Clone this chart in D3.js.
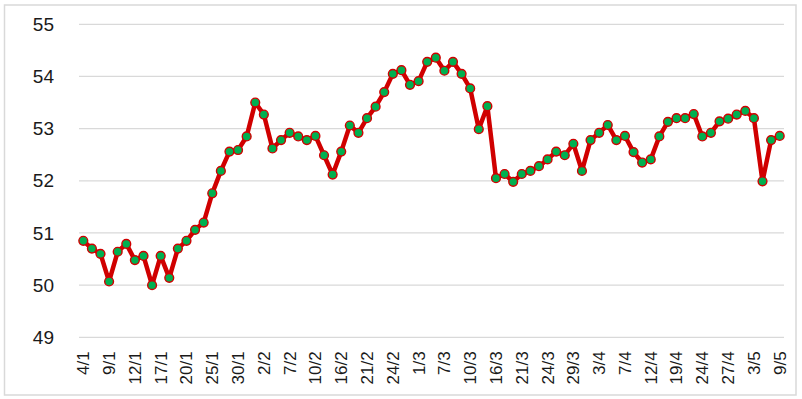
<!DOCTYPE html>
<html>
<head>
<meta charset="utf-8">
<script src="https://cdn.jsdelivr.net/npm/d3@7"></script>
<style>
  body { margin: 0; background: #fff; }
  svg { display: block; }
</style>
</head>
<body>
<div id="container"></div>
<script>
// values, one per trading day
const values = [
  50.85, 50.70, 50.60, 50.07, 50.64, 50.79, 50.48, 50.56, 50.00, 50.56,
  50.14, 50.70, 50.85, 51.06, 51.20, 51.76, 52.19, 52.56, 52.59, 52.85,
  53.50, 53.27, 52.62, 52.78, 52.92, 52.85, 52.78, 52.86, 52.49, 52.12,
  52.56, 53.06, 52.92, 53.20, 53.42, 53.70, 54.05, 54.12, 53.84, 53.91,
  54.28, 54.36, 54.11, 54.28, 54.05, 53.77, 52.99, 53.43, 52.05, 52.13,
  51.98, 52.13, 52.19, 52.28, 52.41, 52.56, 52.49, 52.71, 52.19, 52.78,
  52.92, 53.07, 52.78, 52.86, 52.55, 52.35, 52.41, 52.85, 53.13, 53.20,
  53.20, 53.28, 52.85, 52.92, 53.14, 53.19, 53.27, 53.34, 53.20, 51.99,
  52.78, 52.86
];

// date labels shown on the axis (every third point)
const tickLabels = [
  '4/1', '9/1', '12/1', '17/1', '20/1', '25/1', '30/1', '2/2', '7/2', '10/2',
  '16/2', '21/2', '24/2', '1/3', '7/3', '10/3', '16/3', '21/3', '24/3', '29/3',
  '3/4', '7/4', '12/4', '19/4', '24/4', '27/4', '3/5', '9/5'
];
const labelStep = 3;

const yTicks = [49, 50, 51, 52, 53, 54, 55];

const WIDTH = 802;
const HEIGHT = 399;
const plot = { left: 79, right: 784, top: 24.3, bottom: 337.3 };

let svg = d3.select('#container').append('svg').attr('width', WIDTH).attr('height', HEIGHT);

// outer frame
svg.append('rect')
  .attr('x', 4.5).attr('y', 5)
  .attr('width', 791.5).attr('height', 390)
  .attr('fill', '#fff')
  .attr('stroke', '#d9d9d9')
  .attr('stroke-width', 1.5);

let x = d3.scalePoint().domain(d3.range(values.length)).range([plot.left, plot.right]).padding(0.5);
let y = d3.scaleLinear().domain([49, 55]).range([plot.bottom, plot.top]);

// gridlines
svg.append('g')
  .selectAll('line')
  .data(yTicks)
  .join('line')
  .attr('x1', plot.left).attr('x2', plot.right)
  .attr('y1', (d) => y(d)).attr('y2', (d) => y(d))
  .attr('stroke', '#d9d9d9')
  .attr('stroke-width', 1.3);

// y labels
svg.append('g')
  .attr('font-family', 'Liberation Sans, Arial, sans-serif')
  .attr('font-size', 19)
  .attr('fill', '#1a1a1a')
  .attr('text-anchor', 'end')
  .selectAll('text')
  .data(yTicks)
  .join('text')
  .attr('x', 54)
  .attr('y', (d) => y(d))
  .attr('dy', '0.35em')
  .text((d) => d);

// x labels, rotated
svg.append('g')
  .attr('font-family', 'Liberation Sans, Arial, sans-serif')
  .attr('font-size', 17)
  .attr('fill', '#1a1a1a')
  .attr('text-anchor', 'end')
  .selectAll('text')
  .data(tickLabels)
  .join('text')
  .attr('transform', (d, i) => `translate(${x(i * labelStep)},${plot.bottom + 14}) rotate(-90)`)
  .attr('dy', '0.35em')
  .text((d) => d);

let line = d3.line().x((d, i) => x(i)).y((d) => y(d));

svg.append('path')
  .datum(values)
  .attr('d', line)
  .attr('fill', 'none')
  .attr('stroke', '#d00000')
  .attr('stroke-width', 4.5)
  .attr('stroke-linejoin', 'round');

svg.append('g')
  .selectAll('circle')
  .data(values)
  .join('circle')
  .attr('cx', (d, i) => x(i))
  .attr('cy', (d) => y(d))
  .attr('r', 4.4)
  .attr('fill', '#00b050')
  .attr('stroke', '#d00000')
  .attr('stroke-width', 1.4);
</script>
</body>
</html>
